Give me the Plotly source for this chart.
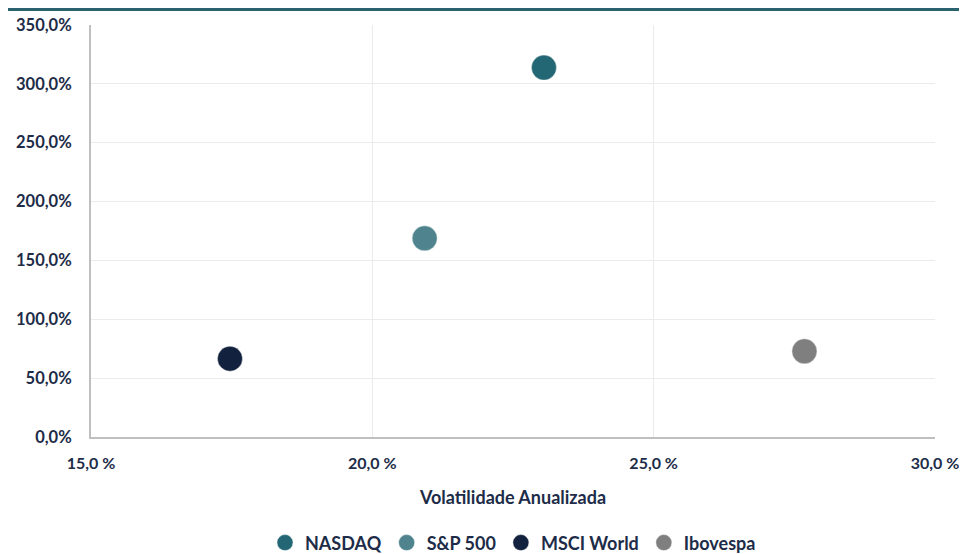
import plotly.graph_objects as go

series = ["NASDAQ", "S&P 500", "MSCI World", "Ibovespa"]
volatility = [23.05, 20.93, 17.47, 27.68]
returns = [313.8, 168.8, 66.5, 72.8]
colors = ["#226773", "#4f848e", "#12223e", "#7f7f7f"]

x_ticks = [15, 20, 25, 30]
x_tick_labels = ["15,0 %", "20,0 %", "25,0 %", "30,0 %"]
y_ticks = [0, 50, 100, 150, 200, 250, 300, 350]
y_tick_labels = ["0,0%", "50,0%", "100,0%", "150,0%", "200,0%", "250,0%", "300,0%", "350,0%"]

font_family = "Lato"
text_color = "#1d2c48"

fig = go.Figure()
for name, xv, yv, c in zip(series, volatility, returns, colors):
    fig.add_trace(go.Scatter(
        x=[xv], y=[yv], name=name, mode="markers",
        marker=dict(size=25, color=c, line=dict(width=1, color="rgba(255,255,255,0.4)")),
    ))

left, right, top, bottom = 83, 40, 17, 125
ph = 554 - top - bottom
pw = 967 - left - right

fig.update_layout(
    width=967, height=554,
    margin=dict(l=left, r=right, t=top, b=bottom, autoexpand=False),
    paper_bgcolor="white", plot_bgcolor="white",
    font=dict(family=font_family, color=text_color, size=16),
    showlegend=True,
    legend=dict(orientation="h", x=0.5, xanchor="center", y=-0.257, yanchor="middle",
                font=dict(size=18, family=font_family, color=text_color, weight="bold"),
                itemwidth=30, tracegroupgap=0),
    xaxis=dict(
        range=[15, 30], tickvals=x_ticks, ticktext=x_tick_labels,
        showgrid=True, gridcolor="#ebebeb", gridwidth=1,
        showline=True, linecolor="#bfbfbf", linewidth=2,
        zeroline=False, ticks="", ticklabelstandoff=11,
        tickfont=dict(size=16, family=font_family, color=text_color, weight="bold"),
        title=dict(text="Volatilidade Anualizada", standoff=20,
                   font=dict(size=18, family=font_family, color=text_color, weight="bold")),
    ),
    yaxis=dict(
        range=[0, 350], tickvals=y_ticks, ticktext=y_tick_labels,
        showgrid=True, gridcolor="#ebebeb", gridwidth=1,
        showline=True, linecolor="#bfbfbf", linewidth=2,
        zeroline=False, ticks="", ticklabelstandoff=14,
        tickfont=dict(size=16.5, family=font_family, color=text_color, weight="bold"),
    ),
    shapes=[dict(type="rect", xref="paper", yref="paper",
                 x0=-left / pw, x1=1 + right / pw,
                 y0=1 + (top - 3) / ph, y1=1 + top / ph,
                 fillcolor="#2a6270", line=dict(width=0), layer="above")],
)

fig.write_html("out.html")
